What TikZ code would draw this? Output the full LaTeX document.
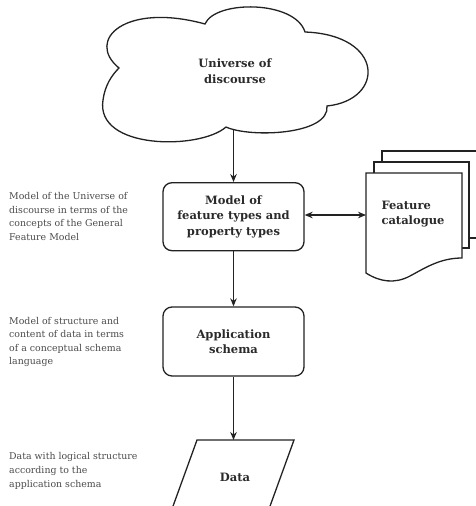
\documentclass[tikz,border=0pt]{standalone}
\usepackage{fontspec}
\setmainfont{DejaVu Serif}
\usetikzlibrary{arrows.meta}
\definecolor{ln}{HTML}{222222}
\definecolor{tx}{HTML}{2a2a2a}
\definecolor{gt}{HTML}{4a4a4a}
\begin{document}
\begin{tikzpicture}[x=1pt,y=-1pt,
 line/.style={draw=ln,line width=1.3pt},
 arr/.style={line,-{Stealth[length=8pt,width=6.5pt]}},
 darr/.style={line,{Stealth[length=8pt,width=6.5pt]}-{Stealth[length=8pt,width=6.5pt]}},
 box/.style={line,rounded corners=9pt,minimum width=141pt,minimum height=68pt,align=center,font=\fontsize{11.5}{15.5}\selectfont\bfseries,text=tx,inner sep=0pt},
 note/.style={anchor=west,align=left,font=\fontsize{9.4}{13.6}\selectfont,text=gt,inner sep=0pt},
 lbl/.style={align=center,font=\fontsize{11.5}{15.5}\selectfont\bfseries,text=tx,inner sep=0pt}]
\useasboundingbox (0,0) rectangle (476,506);
\clip (0,0) rectangle (476,506);
% cloud
\draw[line,fill=white] (119,68) .. controls (85,40) and (125,2) .. (205,24)
  .. controls (215,0) and (295,0) .. (305,32)
  .. controls (385,35) and (385,100) .. (327,106)
  .. controls (330,135) and (250,138) .. (226,127)
  .. controls (200,150) and (95,150) .. (103,100)
  .. controls (105,85) and (112,75) .. (119,68) -- cycle;
\node[lbl] (uod) at (235,71) {Universe of\\discourse};
\coordinate (uodb) at (233.5,129);
% boxes
\node[box] (mft) at (233.5,216.7) {Model of\\feature types and\\property types};
\node[box,minimum height=69pt] (app) at (233.5,341.5) {Application\\schema};
% data
\draw[line] (168,520) -- (197,440) -- (294,440) -- (265,520);
\coordinate (datatop) at (233.5,440);
\node[lbl] (data) at (235,477) {Data};
% feature catalogue pages
\draw[line] (382,162) -- (382,151) -- (480,151);
\draw[line] (469,238) -- (480,238);
\draw[line,fill=white] (374,173) -- (374,162) -- (469,162) -- (469,248) -- (462,248);
\draw[line,fill=white] (366,273) -- (366,173) -- (462,173) -- (462,258)
  .. controls (440,258) and (425,268) .. (410,276)
  .. controls (395,284) and (380,282) .. (366,273) -- cycle;
\node[lbl,align=left] (fc) at (413,214) {Feature\\catalogue};
\coordinate (fcw) at (366,215);
% connectors
\draw[arr] (uodb) -- (mft.north);
\draw[arr] (mft.south) -- (app.north);
\draw[arr] (app.south) -- (datatop);
\draw[darr] (mft.east |- fcw) -- (fcw);
% notes
\node[note] (n1) at (9,216.5) {Model of the Universe of\\discourse in terms of the\\concepts of the General\\Feature Model};
\node[note] (n2) at (9,342) {Model of structure and\\content of data in terms\\of a conceptual schema\\language};
\node[note] (n3) at (9,471) {Data with logical structure\\according to the\\application schema};
\end{tikzpicture}
\end{document}
